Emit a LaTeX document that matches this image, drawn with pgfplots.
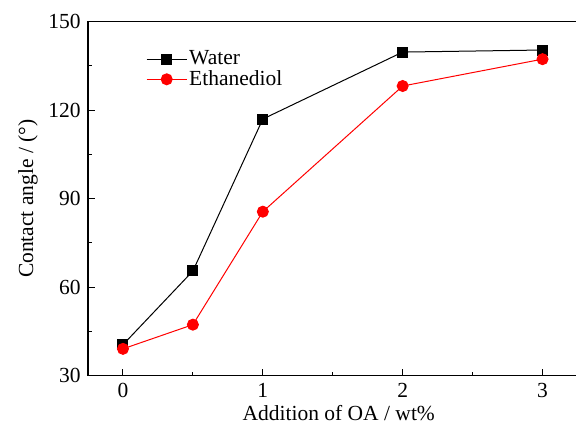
\documentclass[border=0pt]{standalone}
\usepackage{fontspec}
\setmainfont{Liberation Serif}
\usepackage{pgfplots}
\pgfplotsset{compat=1.18}
\begin{document}
\fontsize{21.5bp}{25bp}\selectfont
\begin{tikzpicture}
\begin{axis}[name=ax,
  scale only axis, width=489.5bp, height=354bp,
  xmin=-0.25, xmax=3.25, ymin=30, ymax=150,
  xtick={0,1,2,3}, minor xtick={0.5,1.5,2.5},
  ytick={30,60,90,120,150}, minor ytick={45,75,105,135},
  tick pos=left, tick align=inside,
  major tick length=7bp, minor tick length=4bp,
  axis line style={line width=1.3bp},
  every tick/.style={line width=1bp, black},
  /pgf/number format/assume math mode=true,
  tick label style={font=\fontsize{21.5bp}{25bp}\selectfont},
  label style={font=\fontsize{21.5bp}{25bp}\selectfont},
  xlabel={Addition of OA / wt\%},
  xlabel style={inner sep=0pt, yshift=-0.5bp, xshift=6bp},
  ylabel={Contact angle / (°)},
  ylabel style={yshift=-4bp},
  legend style={at={(0.1185,0.925)}, anchor=north west, draw=none, fill=none,
    inner sep=0pt, row sep=-1.5bp, font=\fontsize{21.5bp}{25bp}\selectfont},
  legend cell align=left,
  legend image code/.code={\draw[mark repeat=2,mark phase=2] plot coordinates {(0bp,0bp)(20bp,0bp)(40bp,0bp)};},
]
\addplot[black, line width=1bp, mark=square*, mark size=5bp, mark options={solid}] coordinates {
(0,40.5) (0.5,65.5) (1,117) (2,139.7) (3,140.4)};
\addlegendentry{Water}
\addplot[red, line width=1bp, mark=*, mark size=5.5bp, mark options={solid}] coordinates {
(0,39.1) (0.5,47.3) (1,85.6) (2,128.2) (3,137.3)};
\addlegendentry{Ethanediol}
\end{axis}
\pgfresetboundingbox
\path[use as bounding box] ([xshift=-88bp,yshift=-47.3bp]ax.south west) rectangle ([xshift=488bp,yshift=21.7bp]ax.north west);
\end{tikzpicture}
\end{document}
